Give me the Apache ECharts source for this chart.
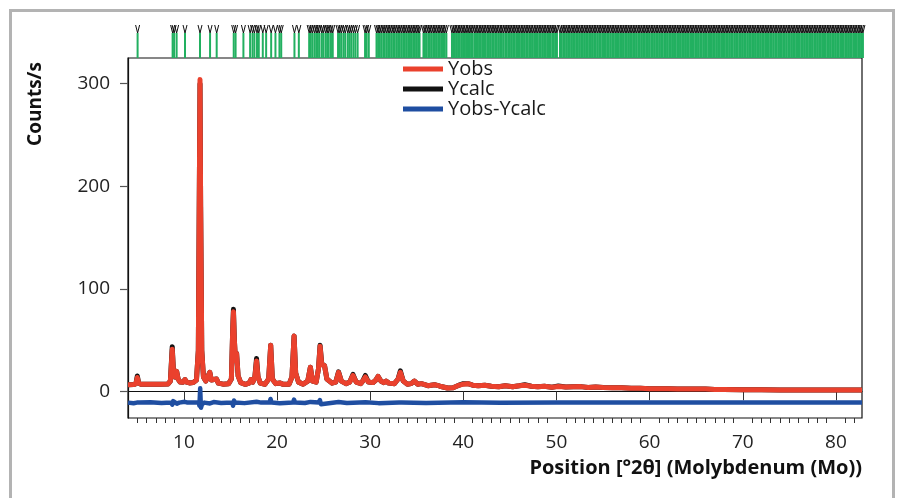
<!DOCTYPE html>
<html>
<head>
<meta charset="utf-8">
<script src="https://cdn.jsdelivr.net/npm/echarts@6/dist/echarts.min.js"></script>
<style>
  html, body { margin: 0; padding: 0; background: #fff; }
  #chart { width: 897px; height: 498px; }
</style>
</head>
<body>
<div id="chart"></div>
<script>
// observed profile [2theta, counts/s]
var yObs = [
  [4.0, 6.5], [4.6, 6.6], [4.85, 7.5], [5.0, 13.5], [5.15, 8], [5.4, 6.8], [6.5, 6.9], [7.5, 7.0],
  [8.3, 7.2], [8.55, 10], [8.75, 41], [8.9, 16], [9.05, 14], [9.22, 19.5], [9.38, 12], [9.6, 9],
  [9.9, 8.8], [10.12, 11.5], [10.3, 9], [10.6, 8.2], [11.0, 8.5], [11.35, 11], [11.55, 40],
  [11.66, 200], [11.73, 304], [11.8, 180], [11.92, 40], [12.1, 14], [12.35, 10], [12.6, 15],
  [12.78, 18.5], [12.95, 11], [13.2, 11.5], [13.5, 12], [13.7, 8], [14.2, 7], [14.8, 7.3],
  [15.1, 12], [15.24, 60], [15.32, 77.5], [15.42, 50], [15.54, 30], [15.66, 37], [15.82, 15],
  [16.1, 8.5], [16.6, 6.8], [17.0, 8], [17.2, 11.5], [17.4, 9], [17.62, 14], [17.8, 29.5],
  [17.96, 14], [18.2, 8], [18.7, 6.8], [19.1, 12], [19.32, 45], [19.5, 12], [19.85, 7.5],
  [20.28, 8.2], [20.6, 7], [21.3, 7], [21.6, 14], [21.83, 54], [22.0, 18], [22.3, 9], [22.8, 7],
  [23.3, 10], [23.58, 23.5], [23.8, 10], [24.2, 9], [24.45, 22], [24.62, 44], [24.8, 26],
  [25.1, 25], [25.35, 12], [25.9, 8], [26.3, 9], [26.6, 18.5], [26.9, 10], [27.4, 7.5], [27.8, 9],
  [28.15, 15.5], [28.5, 9], [29.0, 7.5], [29.2, 10], [29.48, 14], [29.8, 9], [30.3, 8.5],
  [30.6, 11], [30.85, 14.5], [31.15, 10], [31.45, 8.5], [31.7, 10], [32.0, 8], [32.6, 7.5],
  [33.0, 12], [33.24, 18.5], [33.55, 10], [34.0, 7], [34.4, 7.5], [34.75, 10], [35.1, 7],
  [35.5, 7.5], [36.2, 5.5], [36.9, 6.5], [37.5, 5], [38.3, 3.2], [38.9, 3.5], [39.4, 5.5],
  [40.0, 7], [40.5, 7.5], [41.0, 6], [41.6, 5.5], [42.3, 6], [43.0, 5], [43.8, 4.5], [44.5, 5.5],
  [45.3, 4.5], [46.0, 5.5], [46.6, 6], [47.3, 5], [48.0, 4.5], [48.7, 5], [49.5, 4], [50.2, 4.8],
  [51.0, 4.2], [51.8, 4.5], [52.6, 4.6], [53.4, 3.8], [54.2, 4.2], [55.0, 3.7], [56.0, 3.5],
  [57.0, 3.6], [58.0, 3.0], [59.0, 2.9], [60.0, 2.6], [61.0, 2.5], [62.0, 2.6], [63.0, 2.3],
  [64.0, 2.3], [65.0, 2.2], [66.0, 2.2], [67.0, 1.9], [68.0, 1.7], [70.0, 1.6], [72.0, 1.5],
  [74.0, 1.4], [76.0, 1.4], [78.0, 1.3], [80.0, 1.3], [82.8, 1.3]
];

// calculated profile (slightly higher at several peak tops)
var yCalc = [
  [4.0, 6.5], [4.6, 6.6], [4.85, 7.5], [5.0, 15], [5.15, 8], [5.4, 6.8], [6.5, 6.9], [7.5, 7.0],
  [8.3, 7.2], [8.55, 10], [8.75, 43.5], [8.9, 16], [9.05, 14], [9.22, 19.5], [9.38, 12], [9.6, 9],
  [9.9, 8.8], [10.12, 11.5], [10.3, 9], [10.6, 8.2], [11.0, 8.5], [11.35, 11], [11.55, 40],
  [11.66, 200], [11.73, 300], [11.8, 180], [11.92, 40], [12.1, 14], [12.35, 10], [12.6, 15],
  [12.78, 18.5], [12.95, 11], [13.2, 11.5], [13.5, 12], [13.7, 8], [14.2, 7], [14.8, 7.3],
  [15.1, 12], [15.24, 60], [15.32, 80], [15.42, 50], [15.54, 30], [15.66, 37], [15.82, 15],
  [16.1, 8.5], [16.6, 6.8], [17.0, 8], [17.2, 11.5], [17.4, 9], [17.62, 14], [17.8, 32],
  [17.96, 14], [18.2, 8], [18.7, 6.8], [19.1, 12], [19.32, 45], [19.5, 12], [19.85, 7.5],
  [20.28, 8.2], [20.6, 7], [21.3, 7], [21.6, 14], [21.83, 54], [22.0, 18], [22.3, 9], [22.8, 7],
  [23.3, 10], [23.58, 23.5], [23.8, 10], [24.2, 9], [24.45, 22], [24.62, 45], [24.8, 27],
  [25.1, 25], [25.35, 12], [25.9, 8], [26.3, 9], [26.6, 19], [26.9, 10], [27.4, 7.5], [27.8, 9],
  [28.15, 16.5], [28.5, 9], [29.0, 7.5], [29.2, 10], [29.48, 15.5], [29.8, 9], [30.3, 8.5],
  [30.6, 11], [30.85, 14.5], [31.15, 10], [31.45, 8.5], [31.7, 10], [32.0, 8], [32.6, 7.5],
  [33.0, 12], [33.24, 20], [33.55, 10], [34.0, 7], [34.4, 7.5], [34.75, 10], [35.1, 7],
  [35.5, 7.5], [36.2, 5.5], [36.9, 6.5], [37.5, 5], [38.3, 3.2], [38.9, 3.5], [39.4, 5.5],
  [40.0, 7.5], [40.5, 7.5], [41.0, 6], [41.6, 5.5], [42.3, 6], [43.0, 5], [43.8, 4.5], [44.5, 5.5],
  [45.3, 4.5], [46.0, 5.5], [46.6, 6.5], [47.3, 5], [48.0, 4.5], [48.7, 5], [49.5, 4], [50.2, 5.2],
  [51.0, 4.2], [51.8, 4.5], [52.6, 4.6], [53.4, 3.8], [54.2, 4.2], [55.0, 3.7], [56.0, 3.5],
  [57.0, 3.6], [58.0, 3.0], [59.0, 2.9], [60.0, 2.6], [61.0, 2.5], [62.0, 2.6], [63.0, 2.3],
  [64.0, 2.3], [65.0, 2.2], [66.0, 2.2], [67.0, 1.9], [68.0, 1.7], [70.0, 1.6], [72.0, 1.5],
  [74.0, 1.4], [76.0, 1.4], [78.0, 1.3], [80.0, 1.3], [82.8, 1.3]
];

// difference curve, plotted with offset
var yDiff = [
  [4.0, -11], [4.6, -11.6], [4.95, -11], [5.02, -9.5], [5.1, -12.5], [5.25, -11], [6.4, -10.6],
  [7.6, -11.4], [8.65, -11], [8.75, -13], [8.85, -9.5], [9.0, -11], [9.25, -12], [9.5, -11],
  [10.1, -10.2], [10.4, -11], [11.6, -11], [11.67, -14], [11.75, 3], [11.83, -16], [11.95, -12.5],
  [12.2, -11], [12.8, -11.8], [13.2, -10.5], [14.0, -11.3], [15.2, -11], [15.28, -14], [15.38, -9],
  [15.5, -11], [16.5, -11.5], [17.8, -10.2], [18.3, -11], [19.2, -11], [19.3, -7.5], [19.42, -11],
  [20.3, -11.6], [21.72, -11], [21.82, -8], [21.94, -11], [23.0, -11.4], [23.6, -10.3], [24.5, -11],
  [24.6, -8.5], [24.72, -12.5], [24.85, -11], [26.6, -10.4], [27.5, -11.4], [29.5, -10.6],
  [30.9, -11.5], [33.1, -11], [33.25, -9.5], [33.4, -11], [36.0, -11.3], [40.0, -10.7],
  [44.0, -11.2], [50.0, -11], [82.8, -11]
];

// reflection positions (tick marks above the plot)
var reflections = [
  5.03, 8.79, 8.95, 9.22, 10.12, 11.73, 12.81, 13.52, 15.35, 15.55, 16.39, 17.11, 17.37, 17.57,
  17.85, 18.04, 18.47, 18.83, 19.37, 19.83, 20.26, 20.45, 21.87, 22.34,
  23.45, 23.62, 23.80, 24.02, 24.21, 24.38, 24.55, 24.80, 24.96, 25.20, 25.38, 25.55, 25.79, 25.98,
  26.55, 26.74, 26.92, 27.15, 27.33, 27.60, 27.78, 27.97, 28.20, 28.41, 28.65,
  29.45, 29.62, 29.85,
  30.68, 30.85, 31.02, 31.19, 31.40, 31.56, 31.75, 31.93, 32.10, 32.28, 32.47, 32.63, 32.82, 33.00,
  33.18, 33.37, 33.55, 33.72, 33.90, 34.08, 34.27, 34.44, 34.62, 34.80, 34.98, 35.15, 35.30,
  35.72, 35.88, 36.06, 36.25, 36.41, 36.60, 36.78, 36.95, 37.12, 37.30, 37.48, 37.66, 37.82, 38.00, 38.18,
  38.78, 38.95, 39.1, 39.3, 39.45, 39.62, 39.8, 39.97, 40.15, 40.3, 40.5, 40.66, 40.83, 41.0, 41.2,
  41.36, 41.55, 41.7, 41.88, 42.06, 42.22, 42.4, 42.58, 42.75, 42.92, 43.1, 43.27, 43.45, 43.6,
  43.8, 43.96, 44.13, 44.3, 44.5, 44.66, 44.84, 45.0, 45.18, 45.35, 45.52, 45.7, 45.87, 46.05,
  46.22, 46.4, 46.57, 46.75, 46.92, 47.1, 47.26, 47.45, 47.62, 47.8, 47.97, 48.15, 48.32, 48.5,
  48.67, 48.85, 49.02, 49.2, 49.36, 49.55, 49.72, 49.9, 50.05,
  50.38, 50.55, 50.73, 50.9, 51.08, 51.25, 51.43, 51.6, 51.78, 51.95, 52.12, 52.3, 52.48, 52.65,
  52.83, 53.0, 53.18, 53.35, 53.52, 53.7, 53.88, 54.05, 54.22, 54.4, 54.58, 54.75, 54.93, 55.1,
  55.28, 55.45, 55.62, 55.8, 55.98, 56.15, 56.32, 56.5, 56.68, 56.85, 57.03, 57.2, 57.38, 57.55,
  57.72, 57.9, 58.08, 58.25, 58.42, 58.6, 58.78, 58.95, 59.13, 59.3, 59.48, 59.65, 59.82, 60.0,
  60.18, 60.35, 60.52, 60.7, 60.88, 61.05, 61.23, 61.4, 61.58, 61.75, 61.92, 62.1, 62.28, 62.45,
  62.62, 62.8, 62.98, 63.15, 63.33, 63.5, 63.68, 63.85, 64.02, 64.2, 64.38, 64.55, 64.72, 64.9,
  65.08, 65.25, 65.43, 65.6, 65.78, 65.95, 66.12, 66.3, 66.48, 66.65, 66.82, 67.0, 67.18, 67.35,
  67.53, 67.7, 67.88, 68.05, 68.22, 68.4, 68.58, 68.75, 68.92, 69.1, 69.28, 69.45, 69.63, 69.8,
  69.98, 70.15, 70.32, 70.5, 70.68, 70.85, 71.02, 71.2, 71.38, 71.55, 71.73, 71.9, 72.08, 72.25,
  72.42, 72.6, 72.78, 72.95, 73.12, 73.3, 73.48, 73.65, 73.83, 74.0, 74.18, 74.35, 74.52, 74.7,
  74.88, 75.05, 75.22, 75.4, 75.58, 75.75, 75.93, 76.1, 76.28, 76.45, 76.62, 76.8, 76.98, 77.15,
  77.32, 77.5, 77.68, 77.85, 78.03, 78.2, 78.38, 78.55, 78.72, 78.9, 79.08, 79.25, 79.42, 79.6,
  79.78, 79.95, 80.13, 80.3, 80.48, 80.65, 80.82, 81.0, 81.18, 81.35, 81.52, 81.7, 81.88, 82.05,
  82.23, 82.4, 82.58, 82.75, 82.9
];

var xMajor = [10, 20, 30, 40, 50, 60, 70, 80];
var xMinor = [5, 6, 7, 8, 9, 11, 12, 13, 14, 15, 16, 17, 18, 19, 21, 22, 23, 24, 25, 26, 27, 28, 29,
  31, 32, 33, 34, 35, 36, 37, 38, 39, 41, 42, 43, 44, 45, 46, 47, 48, 49, 51, 52, 53, 54, 55, 56,
  57, 58, 59, 61, 62, 63, 64, 65, 66, 67, 68, 69, 71, 72, 73, 74, 75, 76, 77, 78, 79, 81, 82];
var yTicks = [0, 100, 200, 300];

var FONT = '"Open Sans", "Noto Sans", sans-serif';

(function () {
  var myChart = echarts.init(document.getElementById('chart'), null, { renderer: 'canvas' });

  var option = {
    animation: false,
    backgroundColor: '#fff',
    textStyle: { fontFamily: FONT },
    grid: [
      // main plot, framed on all four sides
      { left: 128, top: 58, width: 734, height: 360, show: true, borderColor: '#111', borderWidth: 1.2, backgroundColor: 'transparent' },
      // strip for reflection ticks
      { left: 128, top: 24, width: 734, height: 34 }
    ],
    legend: {
      orient: 'vertical',
      left: 403,
      top: 59,
      padding: 0,
      itemGap: 0,
      itemWidth: 40,
      itemHeight: 5,
      icon: 'rect',
      data: ['Yobs', 'Ycalc', 'Yobs-Ycalc'],
      textStyle: { fontFamily: FONT, fontSize: 20, color: '#1a1a1a', lineHeight: 20 }
    },
    xAxis: [
      {
        type: 'value', gridIndex: 0, min: 4, max: 82.8,
        axisLine: { show: true, lineStyle: { color: '#111', width: 1.2 } },
        axisTick: { show: true, customValues: xMajor, length: 9, lineStyle: { color: '#333' } },
        axisLabel: { customValues: xMajor, margin: 15, fontSize: 19, color: '#222', fontFamily: FONT },
        splitLine: { show: false }
      },
      {
        type: 'value', gridIndex: 0, min: 4, max: 82.8, position: 'bottom',
        axisLine: { show: false },
        axisTick: { show: true, customValues: xMinor, length: 5, lineStyle: { color: '#333' } },
        axisLabel: { show: false },
        splitLine: { show: false }
      },
      {
        type: 'value', gridIndex: 1, min: 4, max: 82.8, show: false
      }
    ],
    yAxis: [
      {
        type: 'value', gridIndex: 0, min: -26, max: 325,
        axisLine: { show: true, lineStyle: { color: '#111', width: 1.2 } },
        axisTick: { show: true, customValues: yTicks, length: 8, lineStyle: { color: '#555', width: 1.2 } },
        axisLabel: { customValues: yTicks, margin: 18, fontSize: 19, color: '#222', fontFamily: FONT },
        splitLine: { show: false }
      },
      { type: 'value', gridIndex: 1, min: 0, max: 34, show: false }
    ],
    graphic: [
      {
        type: 'rect', silent: true,
        shape: { x: 10.5, y: 10.5, width: 883, height: 500 },
        style: { fill: null, stroke: '#b3b3b3', lineWidth: 3 }
      },
      {
        type: 'text', x: 862, y: 468,
        style: { text: 'Position [°2θ] (Molybdenum (Mo))', align: 'right', verticalAlign: 'middle',
          font: 'bold 20px ' + FONT, fill: '#111' }
      },
      {
        type: 'text', x: 36, y: 104, rotation: Math.PI / 2,
        style: { text: 'Counts/s', align: 'center', verticalAlign: 'middle',
          font: 'bold 19px ' + FONT, fill: '#111' }
      }
    ],
    series: [
      {
        name: 'Ycalc', type: 'line', xAxisIndex: 0, yAxisIndex: 0, data: yCalc,
        showSymbol: false, symbol: 'none', color: '#111',
        lineStyle: { color: '#111', width: 5, join: 'round' }, z: 2
      },
      {
        name: 'Yobs', type: 'line', xAxisIndex: 0, yAxisIndex: 0, data: yObs,
        showSymbol: false, symbol: 'none', color: '#ea412d',
        lineStyle: { color: '#ea412d', width: 5, join: 'round' }, z: 3
      },
      {
        name: 'Yobs-Ycalc', type: 'line', xAxisIndex: 0, yAxisIndex: 0, data: yDiff,
        showSymbol: false, symbol: 'none', color: '#1f4ea1',
        lineStyle: { color: '#1f4ea1', width: 4.5, join: 'round' }, z: 4
      },
      {
        name: 'reflections', type: 'custom', xAxisIndex: 2, yAxisIndex: 1,
        data: reflections.map(function (v) { return [v, 0]; }),
        encode: { x: 0, y: 1 },
        clip: false,
        renderItem: function (params, api) {
          var x = api.value(0);
          var b = api.coord([x, 0]);
          var m = api.coord([x, 25]);
          var t = api.coord([x, 33]);
          return {
            type: 'group',
            children: [
              { type: 'line', shape: { x1: b[0], y1: b[1], x2: m[0], y2: m[1] },
                style: { stroke: '#22b060', lineWidth: 2 } },
              { type: 'polyline', shape: { points: [[t[0] - 2, t[1]], [m[0], m[1]], [t[0] + 2, t[1]]] },
                style: { stroke: '#111', lineWidth: 1, fill: null } }
            ]
          };
        }
      }
    ]
  };

  myChart.setOption(option);
  window.addEventListener('resize', function () {
    myChart.resize();
  });
})();
</script>
</body>
</html>
